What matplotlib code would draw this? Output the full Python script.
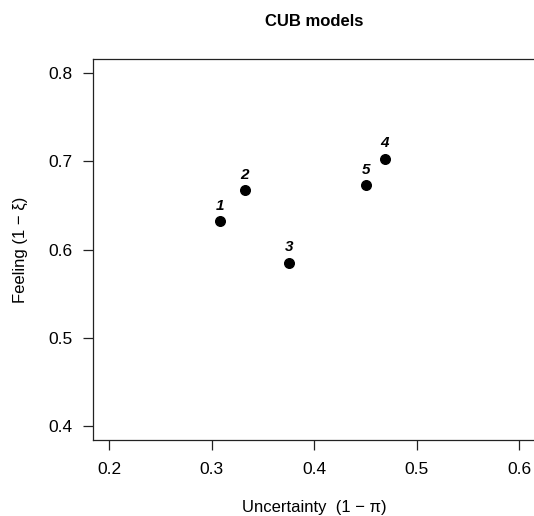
import matplotlib.pyplot as plt

# CUB model estimates
models = ['1', '2', '3', '4', '5']
uncertainty = [0.308, 0.332, 0.375, 0.469, 0.4505]
feeling = [0.632, 0.667, 0.585, 0.703, 0.673]

x_ticks = [0.2, 0.3, 0.4, 0.5, 0.6]
y_ticks = [0.4, 0.5, 0.6, 0.7, 0.8]

plt.rcParams['font.family'] = ['Liberation Sans', 'DejaVu Sans']

fig = plt.figure(figsize=(5.34, 5.16), dpi=100)
# right spine sits just past the image edge, like the reference
ax = fig.add_axes([93 / 534, 76 / 516, 442.6 / 534, 381 / 516])

ax.scatter(uncertainty, feeling, s=48, color='black', zorder=3)
for lab, xv, yv in zip(models, uncertainty, feeling):
    ax.annotate(lab, (xv, yv), xytext=(0, 6), textcoords='offset points',
                ha='center', va='bottom', fontsize=11, fontweight='bold',
                fontstyle='italic')

# R style limits: 4% extension around the tick range
ax.set_xlim(0.184, 0.616)
ax.set_ylim(0.384, 0.816)
ax.set_xticks(x_ticks)
ax.set_xticklabels([f'{t:.1f}' for t in x_ticks])
ax.set_yticks(y_ticks)
ax.set_yticklabels([f'{t:.1f}' for t in y_ticks])
ax.tick_params(length=7.5, width=0.9, labelsize=12.5, color='#222222')
ax.tick_params(axis='x', pad=8)
ax.tick_params(axis='y', pad=7)

for sp in ax.spines.values():
    sp.set_linewidth(0.9)
    sp.set_color('#222222')

ax.set_xlabel('Uncertainty  (1 − π)', fontsize=12, labelpad=17)
ax.set_ylabel('Feeling (1 − ξ)', fontsize=12, labelpad=15)
fig.text(314 / 534, 1 - 21 / 516, 'CUB models', ha='center', va='center',
         fontsize=12, fontweight='bold')

fig.savefig('out.png', dpi=100)
